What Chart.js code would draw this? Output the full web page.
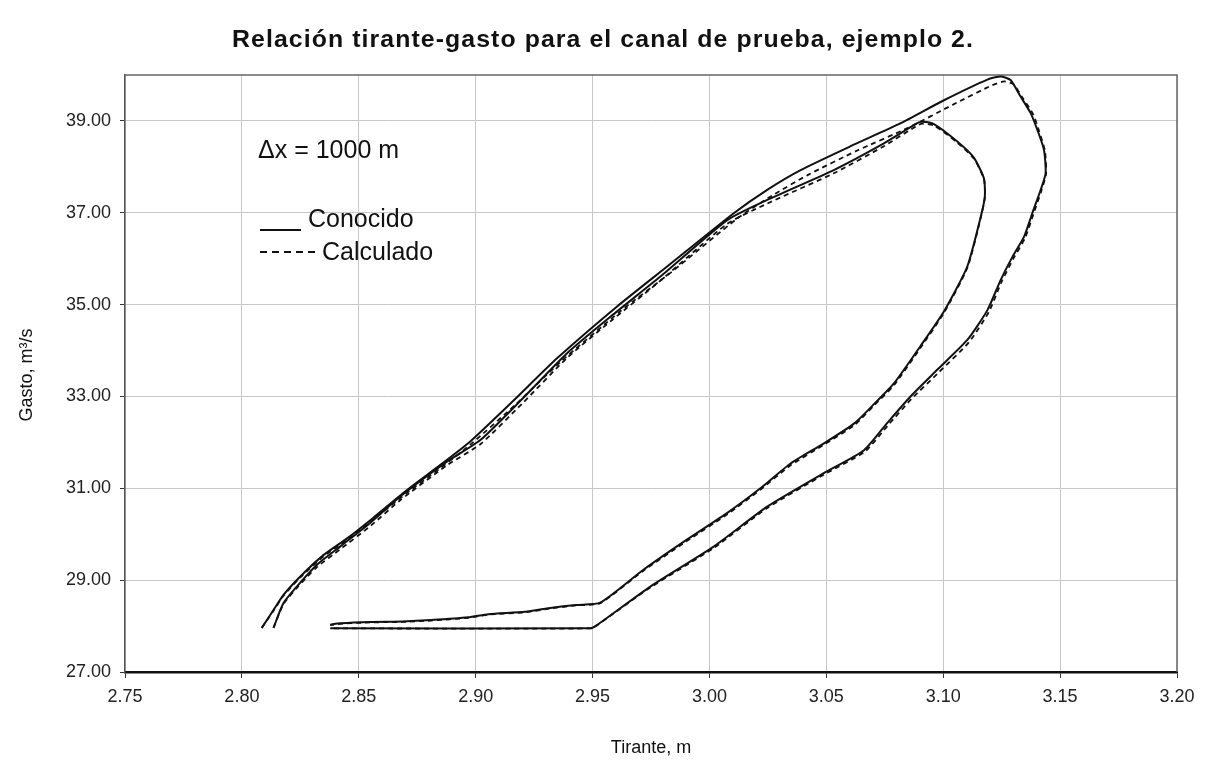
<!DOCTYPE html>
<html lang="es">
<head>
<meta charset="utf-8">
<title>Relación tirante-gasto</title>
<script src="https://cdn.jsdelivr.net/npm/chart.js@4.4.1/dist/chart.umd.min.js"></script>
<style>
  html, body { margin: 0; padding: 0; background: #fff; }
  #wrap { width: 1206px; height: 762px; }
</style>
</head>
<body>
<div id="wrap"><canvas id="chart" width="1206" height="762"></canvas></div>
<script>
/* data
# ------------------------------------------------------------------------------------------------
*/
const xTicks = [2.75, 2.80, 2.85, 2.90, 2.95, 3.00, 3.05, 3.10, 3.15, 3.20];
const yTicks = [27, 29, 31, 33, 35, 37, 39];

// outer loop (peak near 40 m3/s), known
const tiranteA = [2.8085, 2.8135, 2.8178, 2.825, 2.835, 2.845, 2.856, 2.8706, 2.8849, 2.8977, 2.916, 2.9348, 2.9605, 2.9819, 3.0104, 3.0247, 3.039, 3.0604, 3.0818, 3.1003, 3.1189, 3.1246, 3.1288, 3.1331, 3.1374, 3.1403, 3.1431, 3.1438, 3.1417, 3.1381, 3.1346, 3.1296, 3.1246, 3.1189, 3.1103, 3.0974, 3.086, 3.076, 3.0661, 3.0489, 3.0247, 3.0018, 2.9747, 2.9519, 2.949, 2.8378];
const gastoA = [27.96, 28.35, 28.68, 29.08, 29.55, 29.91, 30.35, 30.96, 31.51, 32.02, 32.9, 33.83, 34.96, 35.83, 36.99, 37.5, 37.93, 38.45, 38.95, 39.45, 39.9, 39.97, 39.89, 39.53, 39.17, 38.8, 38.37, 37.86, 37.5, 36.99, 36.48, 36.04, 35.54, 34.88, 34.23, 33.58, 33.0, 32.42, 31.83, 31.33, 30.6, 29.73, 28.86, 28.02, 27.95, 27.95];

// outer loop, computed
const tiranteAc = [2.8085, 2.8135, 2.8178, 2.825, 2.835, 2.845, 2.856, 2.8706, 2.8849, 2.8977, 2.917, 2.936, 2.962, 2.984, 3.012, 3.027, 3.042, 3.063, 3.085, 3.104, 3.121, 3.126, 3.130, 3.134, 3.1385, 3.141, 3.1435, 3.144, 3.142, 3.1385, 3.135, 3.130, 3.125, 3.1195, 3.111, 3.098, 3.0865, 3.0765, 3.0665, 3.049, 3.0247, 3.0018, 2.9747, 2.9519, 2.949, 2.8378];
const gastoAc = [27.96, 28.33, 28.66, 29.06, 29.52, 29.88, 30.31, 30.9, 31.44, 31.95, 32.82, 33.74, 34.86, 35.72, 36.88, 37.38, 37.82, 38.35, 38.85, 39.35, 39.78, 39.86, 39.8, 39.5, 39.14, 38.78, 38.35, 37.85, 37.48, 36.96, 36.45, 36.0, 35.5, 34.84, 34.18, 33.52, 32.95, 32.38, 31.8, 31.3, 30.57, 29.7, 28.84, 28.02, 27.95, 27.95];

// inner loop (peak near 39 m3/s), known
const tiranteB = [2.8135, 2.8178, 2.8235, 2.832, 2.842, 2.855, 2.8677, 2.8877, 2.902, 2.92, 2.9391, 2.958, 2.979, 3.0076, 3.0247, 3.0532, 3.0746, 3.0889, 3.091, 3.096, 3.106, 3.1131, 3.1174, 3.1178, 3.116, 3.1103, 3.1003, 3.0903, 3.079, 3.0707, 3.0621, 3.049, 3.0347, 3.0218, 3.0075, 2.99, 2.9716, 2.9533, 2.943, 2.9326, 2.9212, 2.9055, 2.8969, 2.881, 2.8687, 2.855, 2.8421, 2.8378];
const gastoB = [27.96, 28.5, 28.86, 29.33, 29.73, 30.25, 30.82, 31.58, 32.05, 32.95, 33.94, 34.75, 35.61, 36.84, 37.28, 37.93, 38.51, 38.95, 38.98, 38.93, 38.55, 38.2, 37.75, 37.35, 36.9, 35.83, 34.85, 34.1, 33.29, 32.85, 32.42, 31.98, 31.54, 31.0, 30.46, 29.87, 29.22, 28.51, 28.46, 28.4, 28.31, 28.26, 28.19, 28.13, 28.1, 28.09, 28.06, 28.03];

// inner loop, computed
const tiranteBc = [2.8135, 2.8178, 2.8235, 2.832, 2.842, 2.855, 2.8677, 2.8877, 2.902, 2.92, 2.9391, 2.958, 2.979, 3.0076, 3.0247, 3.0532, 3.0746, 3.0889, 3.091, 3.096, 3.106, 3.1131, 3.1174, 3.1178, 3.116, 3.1103, 3.1003, 3.0903, 3.079, 3.0707, 3.0621, 3.049, 3.0347, 3.0218, 3.0075, 2.99, 2.9716, 2.9533, 2.943, 2.9326, 2.9212, 2.9055, 2.8969, 2.881, 2.8687, 2.855, 2.8421, 2.8378];
const gastoBc = [27.96, 28.48, 28.83, 29.28, 29.67, 30.18, 30.74, 31.5, 31.96, 32.85, 33.84, 34.65, 35.52, 36.76, 37.2, 37.86, 38.45, 38.9, 38.94, 38.9, 38.53, 38.18, 37.74, 37.34, 36.88, 35.8, 34.82, 34.06, 33.25, 32.82, 32.38, 31.95, 31.5, 30.97, 30.43, 29.84, 29.2, 28.5, 28.45, 28.39, 28.3, 28.25, 28.18, 28.12, 28.09, 28.08, 28.05, 28.02];

const FONT = '"Liberation Sans", Arial, Helvetica, sans-serif';

function pts(xs, ys) {
  return xs.map((x, i) => ({ x: x, y: ys[i] }));
}

function serie(label, xs, ys, dashed) {
  return {
    label: label,
    data: pts(xs, ys),
    showLine: true,
    borderColor: '#111',
    backgroundColor: '#111',
    borderWidth: dashed ? 1.8 : 2,
    borderDash: dashed ? [5, 4] : [],
    pointRadius: 0,
    tension: 0.2,
    fill: false
  };
}

/* texts and frame
# ------------------------------------------------------------------------------------------------
*/
const decor = {
  id: 'decor',
  beforeDatasetsDraw(chart) {
    const { ctx, chartArea: a } = chart;
    ctx.save();
    ctx.strokeStyle = '#666';
    ctx.lineWidth = 1.5;
    ctx.beginPath();
    ctx.moveTo(a.left, a.top);
    ctx.lineTo(a.right, a.top);
    ctx.lineTo(a.right, a.bottom);
    ctx.stroke();
    ctx.restore();
  },
  afterDraw(chart) {
    const { ctx } = chart;
    ctx.save();
    ctx.fillStyle = '#111';

    // title, stretched to the width it has in the figure
    const title = 'Relación tirante-gasto para el canal de prueba, ejemplo 2.';
    ctx.font = 'bold 23px ' + FONT;
    if ('letterSpacing' in ctx) ctx.letterSpacing = '1px';
    const w = ctx.measureText(title).width;
    ctx.textAlign = 'center';
    ctx.textBaseline = 'middle';
    ctx.save();
    ctx.translate(603, 41);
    ctx.scale(742 / w, 1);
    ctx.fillText(title, 0, 0);
    ctx.restore();
    if ('letterSpacing' in ctx) ctx.letterSpacing = '0px';

    // axis titles
    ctx.font = '18px ' + FONT;
    ctx.fillText('Tirante, m', 651, 748);
    ctx.save();
    ctx.translate(27, 375);
    ctx.rotate(-Math.PI / 2);
    ctx.fillText('Gasto, m³/s', 0, 0);
    ctx.restore();

    // legend block
    ctx.textAlign = 'left';
    ctx.textBaseline = 'alphabetic';
    ctx.font = '25px ' + FONT;
    ctx.fillText('Δx = 1000 m', 258, 158);
    ctx.fillText('Conocido', 308, 227);
    ctx.fillText('Calculado', 322, 260);

    ctx.strokeStyle = '#111';
    ctx.lineWidth = 2;
    ctx.beginPath();
    ctx.moveTo(260, 230);
    ctx.lineTo(301, 230);
    ctx.stroke();
    ctx.setLineDash([7, 5]);
    ctx.beginPath();
    ctx.moveTo(260, 252);
    ctx.lineTo(318, 252);
    ctx.stroke();
    ctx.restore();
  }
};

new Chart(document.getElementById('chart'), {
  type: 'scatter',
  data: {
    datasets: [
      serie('Conocido', tiranteA, gastoA, false),
      serie('Conocido', tiranteB, gastoB, false),
      serie('Calculado', tiranteAc, gastoAc, true),
      serie('Calculado', tiranteBc, gastoBc, true)
    ]
  },
  options: {
    responsive: false,
    animation: false,
    layout: { padding: { top: 75, right: 29, left: 0, bottom: 0 } },
    plugins: {
      legend: { display: false },
      tooltip: { enabled: false },
      title: { display: false }
    },
    scales: {
      x: {
        type: 'linear',
        min: 2.75,
        max: 3.20,
        afterBuildTicks: (scale) => { scale.ticks = xTicks.map(v => ({ value: v })); },
        afterFit: (scale) => { scale.height = 90; },
        ticks: {
          color: '#222',
          font: { family: FONT, size: 18 },
          padding: 8,
          maxRotation: 0,
          callback: (v) => Number(v).toFixed(2)
        },
        grid: { color: '#c8c8c8', lineWidth: 1, tickLength: 6, tickColor: '#333' },
        border: { color: '#111', width: 2.5 }
      },
      y: {
        type: 'linear',
        min: 27,
        max: 40,
        afterBuildTicks: (scale) => { scale.ticks = yTicks.map(v => ({ value: v })); },
        afterFit: (scale) => { scale.width = 125; },
        ticks: {
          color: '#222',
          font: { family: FONT, size: 18 },
          padding: 9,
          callback: (v) => Number(v).toFixed(2)
        },
        grid: { color: '#c8c8c8', lineWidth: 1, tickLength: 5, tickColor: '#333' },
        border: { color: '#555', width: 1.5 }
      }
    }
  },
  plugins: [decor]
});
</script>
</body>
</html>
